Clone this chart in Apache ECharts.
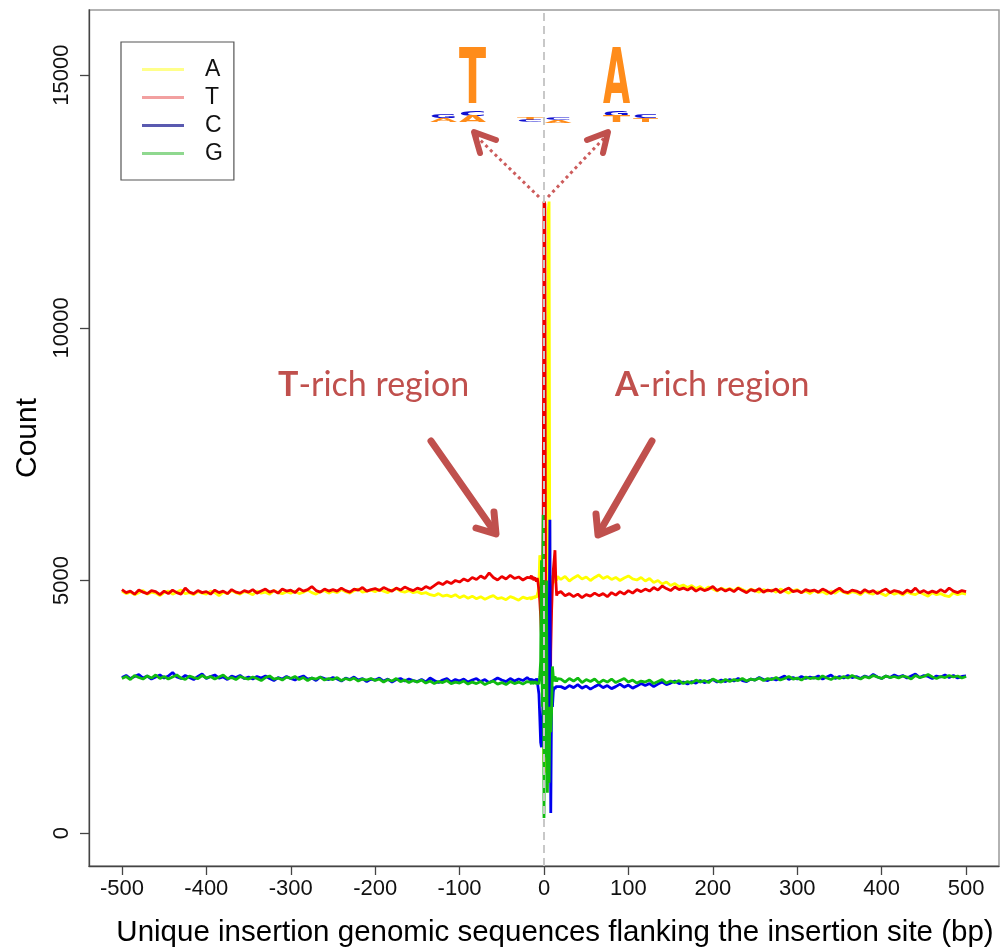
<!DOCTYPE html>
<html><head><meta charset="utf-8">
<script src="https://cdn.jsdelivr.net/npm/echarts@6/dist/echarts.min.js"></script>
<style>html,body{margin:0;padding:0;background:#fff}#c{width:1006px;height:951px}</style>
</head><body><div id="c"></div>
<script>
// ---- positions (bp) ----
const leftPos = []; for (let p = -500; p <= -20; p += 5) leftPos.push(p);
const centerPos = []; for (let p = -16; p <= 16; p++) centerPos.push(p);
const rightPos = []; for (let p = 20; p <= 500; p += 5) rightPos.push(p);
const positions = leftPos.concat(centerPos, rightPos);

const seriesNames = ['A', 'T', 'C', 'G'];
const xTicks = [-500, -400, -300, -200, -100, 0, 100, 200, 300, 400, 500];
const yTicks = [0, 5000, 10000, 15000];

// ---- A (yellow) ----
const A_left = [4790,4740,4770,4720,4760,4800,4730,4770,4750,4700,
4760,4790,4730,4770,4810,4740,4760,4720,4780,4750,
4730,4790,4760,4700,4770,4740,4800,4760,4730,4780,
4760,4720,4790,4750,4770,4730,4800,4760,4740,4780,
4750,4790,4740,4770,4810,4760,4730,4780,4800,4750,
4790,4760,4820,4780,4750,4800,4830,4770,4790,4810,
4780,4820,4790,4760,4810,4840,4790,4770,4800,4760,
4780,4740,4760,4720,4700,4740,4690,4710,4680,4720,
4660,4700,4650,4690,4640,4680,4630,4670,4700,4640,
4660,4620,4680,4650,4610,4670,4640];
const A_center = [4660,4620,4680,4640,4690,4650,4700,4660,4720,4780,
4950,5500,5350,4200,3100,2000,
1400,1200,2200,2800,4300,12300,12500,
3600,4200,4700,5100,5000,4950,5050,5100,5000,5080];
const A_right = [5020,5080,4990,5050,5100,5030,5070,5000,5060,5110,
5040,5080,5020,5060,5000,5050,5090,5030,5010,5060,
4990,5040,4960,5000,4930,4970,4900,4940,4880,4910,
4860,4900,4840,4880,4820,4870,4830,4790,4850,4810,
4840,4800,4860,4820,4780,4830,4800,4770,4820,4790,
4810,4770,4830,4790,4750,4800,4820,4760,4790,4740,
4800,4760,4780,4730,4790,4750,4810,4770,4740,4780,
4760,4720,4790,4750,4730,4780,4740,4700,4770,4730,
4760,4710,4780,4740,4720,4770,4730,4690,4760,4720,
4740,4700,4680,4760,4720,4750,4730];

// ---- T (red) ----
const T_left = [4820,4760,4790,4730,4810,4770,4740,4800,4780,4720,
4790,4740,4810,4760,4730,4850,4770,4740,4800,4760,
4780,4730,4810,4760,4790,4740,4820,4770,4750,4800,
4770,4820,4750,4790,4830,4770,4800,4750,4830,4790,
4810,4760,4840,4790,4820,4880,4800,4770,4830,4790,
4820,4790,4850,4800,4770,4830,4810,4860,4790,4820,
4840,4800,4860,4820,4790,4850,4810,4870,4830,4800,
4850,4820,4880,4840,4900,4960,4920,4980,4940,5000,
4970,5030,4990,5060,5020,5090,5040,5150,5060,5010,
5080,5030,5100,5040,5070,5010,5060];
const T_center = [5050,5100,5020,5080,5000,5060,5020,4980,5050,4950,
4800,4600,4300,3900,4400,6100,
12500,12450,3600,2900,2400,2000,1700,
1500,3600,4400,4900,5200,5400,5600,5000,4700,4750];
const T_right = [4780,4700,4740,4680,4730,4660,4720,4690,4750,4700,
4740,4680,4760,4710,4780,4730,4800,4750,4820,4780,
4830,4790,4860,4810,4890,4840,4800,4870,4820,4850,
4810,4860,4790,4840,4800,4830,4880,4800,4840,4790,
4830,4780,4850,4800,4760,4820,4790,4840,4770,4810,
4790,4830,4760,4810,4850,4780,4800,4760,4820,4790,
4810,4770,4830,4790,4740,4800,4850,4780,4760,4810,
4790,4750,4820,4770,4800,4740,4790,4830,4760,4800,
4780,4740,4810,4770,4850,4760,4800,4750,4790,4760,
4820,4770,4850,4790,4760,4800,4780];

// ---- C (blue) ----
const C_left = [3080,3120,3060,3100,3140,3070,3110,3050,3090,3130,
3070,3110,3180,3090,3060,3120,3080,3040,3100,3150,
3060,3100,3130,3070,3090,3040,3110,3080,3120,3060,
3090,3050,3100,3070,3110,3060,3020,3080,3050,3100,
3060,3030,3080,3110,3050,3070,3020,3090,3060,3040,
3080,3050,3010,3070,3040,3090,3030,3060,3000,3050,
3030,3070,3010,3050,2990,3040,3060,3010,3050,3020,
3000,3040,2990,3070,3020,2980,3030,3060,2990,3040,
3010,3050,2990,3030,3060,3000,3040,2980,3020,3070,
3030,3000,3060,3010,3050,3020,3080];
const C_center = [3020,3060,3000,3050,2990,3040,3000,3060,3010,2980,
2750,2300,1800,1700,2200,2600,
2400,2000,3300,2600,1600,2900,3500,
6200,400,2700,2500,2800,2900,2850,2900,2880,2920];
const C_right = [2900,2860,2920,2880,2940,2870,2910,2850,2900,2940,
2880,2920,2860,2900,2950,2890,2930,2870,2910,2960,
2920,2960,2900,2950,2990,2940,2970,3010,2960,2990,
2950,3000,2970,3020,2980,3010,3040,2990,3030,3000,
3040,3010,3060,3020,3000,3050,3030,3080,3040,3020,
3060,3030,3070,3110,3040,3080,3050,3100,3060,3090,
3070,3110,3050,3090,3130,3060,3100,3070,3120,3080,
3100,3060,3110,3080,3140,3090,3060,3110,3080,3130,
3090,3120,3070,3110,3150,3080,3120,3100,3060,3110,
3090,3130,3080,3120,3070,3100,3110];

// ---- G (green) ----
const G_left = [3060,3100,3040,3120,3080,3050,3110,3070,3130,3060,
3100,3050,3090,3130,3070,3040,3110,3080,3060,3120,
3070,3100,3050,3090,3130,3060,3080,3040,3100,3070,
3050,3090,3060,3020,3080,3110,3050,3070,3030,3090,
3060,3100,3040,3080,3020,3070,3050,3090,3030,3060,
3040,3080,3020,3060,3030,3070,3010,3050,3030,3060,
3020,3050,2990,3040,3010,3060,3000,3030,2980,3020,
2990,3030,2970,3010,2960,3000,2980,3020,2960,2990,
2970,3010,2950,2990,2960,3000,2940,2980,3010,2950,
2980,2940,3000,2960,2990,2950,3000];
const G_center = [2990,2950,3010,2960,2980,2940,3000,2950,2990,2970,
2950,3100,3400,5400,2500,6300,
300,4500,1500,5000,800,2000,1000,
2500,2000,2400,3300,3100,3000,3100,3050,3000,3060];
const G_right = [3050,2990,3060,3010,3070,2980,3040,3000,3050,2970,
3030,2990,3050,2980,3020,3060,2990,3030,2970,3010,
2990,3030,2960,3000,3040,2970,3010,2980,3020,2960,
3000,2970,3030,2990,3020,2980,3050,3010,2990,3040,
3000,3040,3020,3060,3010,3050,3030,3070,3020,3060,
3040,3080,3030,3060,3100,3050,3070,3030,3090,3060,
3080,3050,3110,3070,3040,3090,3060,3100,3070,3120,
3080,3050,3100,3070,3120,3090,3060,3110,3080,3100,
3070,3110,3090,3050,3120,3080,3100,3140,3090,3060,
3100,3080,3120,3090,3110,3070,3100];

const seriesValues = [
  A_left.concat(A_center, A_right),
  T_left.concat(T_center, T_right),
  C_left.concat(C_center, C_right),
  G_left.concat(G_center, G_right)
];

const lineColors = ['#ffff00', '#ee0000', '#0000ee', '#11bb11'];
const legendColors = ['#ffff8a', '#f2a0a0', '#5a5ab0', '#8fd88f'];
const FONT = '"Liberation Sans", Arial, Helvetica, sans-serif';
const anno = '#c0504d';
const orange = '#ff8c1a';
const logoBlue = '#1010d0';

const chart = echarts.init(document.getElementById('c'), null, { renderer: 'canvas' });

const series = seriesNames.map((n, i) => {
  const s = {
    name: n, type: 'line', showSymbol: false, symbol: 'none',
    data: positions.map((p, k) => [p, seriesValues[i][k]]),
    lineStyle: { color: lineColors[i], width: 2.8 },
    itemStyle: { color: lineColors[i] },
    animation: false, silent: true, z: 3
  };
  if (i === 0) {
    s.markLine = {
      silent: true, symbol: ['none', 'none'], label: { show: false },
      lineStyle: { color: '#c8c8c8', type: [8, 5], width: 2 },
      data: [{ xAxis: 0 }], animation: false
    };
  }
  return s;
});

// logo letters: [text, centerX, centerY, width, height, color]
const logoLetters = [
  ['T', 472.5, 83, 27, 56, orange],
  ['A', 616.5, 83, 27, 56, orange],
  ['G', 443.5, 117, 27, 4, logoBlue], ['A', 443.5, 121, 27, 4, orange],
  ['C', 472.5, 114.5, 27, 5, logoBlue], ['A', 472.5, 120, 27, 6, orange],
  ['T', 530, 119, 26, 2.5, orange], ['C', 530, 121.5, 26, 2.5, logoBlue],
  ['C', 558, 119.5, 27, 2.5, logoBlue], ['A', 558, 122, 27, 2.5, orange],
  ['G', 616.5, 114.5, 27, 5, logoBlue], ['T', 616.5, 120, 27, 6, orange],
  ['C', 645.5, 117, 25, 4, logoBlue], ['T', 645.5, 121, 25, 4, orange]
];
const glyphW = { T: 0.68, A: 0.77, C: 0.73, G: 0.82 };
const LF = 40;
const graphics = logoLetters.map(([t, cx, cy, w, h, col]) => ({
  type: 'text', x: cx, y: cy,
  scaleX: w / (glyphW[t] * LF), scaleY: h / (0.729 * LF),
  style: { text: t, font: 'bold ' + LF + 'px "DejaVu Sans"', fill: col, align: 'center', verticalAlign: 'middle' },
  z: 10
}));

function arrowHead(pts, width, color) {
  return { type: 'polyline', shape: { points: pts },
    style: { stroke: color, lineWidth: width, lineCap: 'round', lineJoin: 'round', fill: null }, z: 10 };
}
function seg(x1, y1, x2, y2, width, color, dash) {
  const st = { stroke: color, lineWidth: width, lineCap: dash ? 'butt' : 'round' };
  if (dash) st.lineDash = dash;
  return { type: 'line', shape: { x1, y1, x2, y2 }, style: st, z: 10 };
}

graphics.push(
  // dotted arrows to logo
  seg(539, 197, 477, 137, 3, '#cd5c5c', [3, 3.5]),
  arrowHead([[496, 140], [474, 132], [480, 153]], 6, anno),
  seg(548, 197, 605, 137, 3, '#cd5c5c', [3, 3.5]),
  arrowHead([[587, 140], [608, 132], [603, 153]], 6, anno),
  // thick arrows
  seg(431, 441, 494, 531, 7, anno),
  arrowHead([[476, 528], [496, 534], [494, 512]], 7, anno),
  seg(652, 441, 600, 531, 7, anno),
  arrowHead([[596, 514], [598, 535], [617, 527]], 7, anno),
  // annotation texts
  { type: 'text', x: 278, y: 385, z: 10,
    style: { text: '{b|T}-rich region', font: '34px Lato', fill: anno, align: 'left', verticalAlign: 'middle',
      rich: { b: { fontWeight: 'bold', fontSize: 34, fontFamily: 'Lato', fill: anno } } } },
  { type: 'text', x: 615, y: 385, z: 10,
    style: { text: '{b|A}-rich region', font: '34px Lato', fill: anno, align: 'left', verticalAlign: 'middle',
      rich: { b: { fontWeight: 'bold', fontSize: 34, fontFamily: 'Lato', fill: anno } } } }
);

const option = {
  backgroundColor: '#ffffff',
  animation: false,
  grid: { left: 89, right: 7, top: 10, bottom: 85, containLabel: false, outerBoundsMode: 'none',
    show: true, borderColor: '#9a9a9a', borderWidth: 1.5, backgroundColor: 'transparent' },
  legend: {
    orient: 'vertical', left: 121, top: 42, padding: [16, 11, 15, 21],
    itemWidth: 42, itemHeight: 3, itemGap: 5, icon: 'rect',
    borderColor: '#555', borderWidth: 1.2, backgroundColor: '#fff',
    textStyle: { fontSize: 23, fontFamily: FONT, color: '#111', padding: [0, 0, 0, 16] },
    selectedMode: false,
    data: seriesNames.map((n, i) => ({ name: n, itemStyle: { color: legendColors[i] } }))
  },
  xAxis: {
    type: 'value', min: -539, max: 539,
    axisLine: { show: true, onZero: false, lineStyle: { color: '#444', width: 1.3 } },
    axisTick: { show: true, length: 9, customValues: xTicks, lineStyle: { color: '#444', width: 1.3 } },
    axisLabel: { customValues: xTicks, formatter: v => String(v), fontSize: 22, fontFamily: FONT, color: '#111', margin: 12 },
    splitLine: { show: false },
    name: 'Unique insertion genomic sequences flanking the insertion site (bp)',
    nameLocation: 'middle', nameGap: 52,
    nameTextStyle: { fontSize: 29.5, fontFamily: FONT, color: '#000', padding: [0, 0, 0, 22] }
  },
  yAxis: {
    type: 'value', min: -650, max: 16290,
    axisLine: { show: true, onZero: false, lineStyle: { color: '#444', width: 1.3 } },
    axisTick: { show: true, length: 9, customValues: yTicks, lineStyle: { color: '#444', width: 1.3 } },
    axisLabel: { customValues: yTicks, formatter: v => String(v), rotate: 90, fontSize: 22, fontFamily: FONT, color: '#111', margin: 16 },
    splitLine: { show: false },
    name: 'Count', nameLocation: 'middle', nameGap: 45,
    nameTextStyle: { fontSize: 30, fontFamily: FONT, color: '#000' }
  },
  series: series,
  graphic: graphics
};
chart.setOption(option);
</script>
</body></html>
